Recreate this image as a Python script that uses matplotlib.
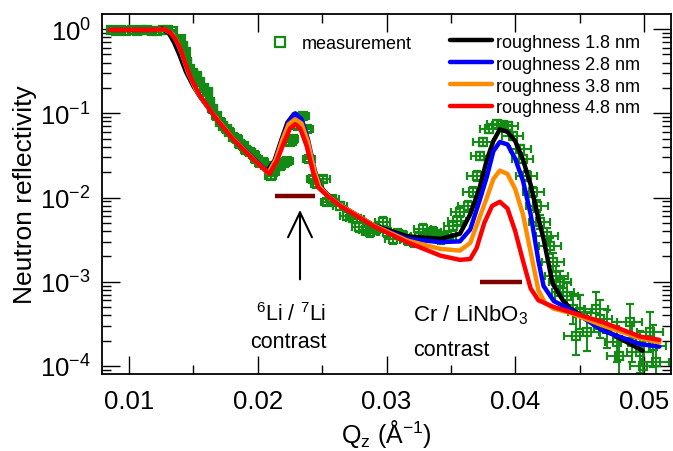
import matplotlib
matplotlib.use("Agg")
import matplotlib.pyplot as plt
import numpy as np
from matplotlib.lines import Line2D
from matplotlib.ticker import MultipleLocator, LogLocator, NullFormatter, FuncFormatter

plt.rcParams["font.family"] = ["Liberation Sans", "DejaVu Sans"]
plt.rcParams["mathtext.fontset"] = "custom"
plt.rcParams["mathtext.rm"] = "Liberation Sans"
plt.rcParams["mathtext.it"] = "Liberation Sans:italic"
plt.rcParams["mathtext.bf"] = "Liberation Sans:bold"

# measured reflectivity: Qz, log10(R), half-width of the error bar in decades
meas_q = [
    0.0086, 0.0090, 0.0094, 0.0098, 0.0102, 0.0106, 0.0110, 0.0114, 0.0118, 0.0122,
    0.0126, 0.0130, 0.0134, 0.0140, 0.0142, 0.0144, 0.0145, 0.0147, 0.0150, 0.0153,
    0.0155, 0.0158, 0.0161, 0.0163, 0.0165, 0.0168, 0.0171, 0.0173, 0.0176, 0.0178,
    0.0181, 0.0184, 0.0186, 0.0189, 0.0191, 0.0194, 0.0197, 0.0199, 0.0202, 0.0204,
    0.0207, 0.0210, 0.0212, 0.0215, 0.0217, 0.0220, 0.0223, 0.0225, 0.0227, 0.0231,
    0.0233, 0.0235, 0.0238, 0.0240, 0.0243, 0.0246, 0.0251, 0.0254, 0.0258, 0.0264,
    0.0269, 0.0274, 0.0277, 0.0279, 0.0284, 0.0287, 0.0292, 0.0297, 0.0300, 0.0305,
    0.0309, 0.0313, 0.0317, 0.0321, 0.0325, 0.0328, 0.0332, 0.0336, 0.0339, 0.0342,
    0.0345, 0.0347, 0.0352, 0.0355, 0.0357, 0.0363, 0.0367, 0.0370, 0.0373, 0.0375,
    0.0380, 0.0386, 0.0390, 0.0394, 0.0398, 0.0404, 0.0406, 0.0409, 0.0414, 0.0417,
    0.0419, 0.0425, 0.0427, 0.0429, 0.0432, 0.0435, 0.0437, 0.0440, 0.0445, 0.0447,
    0.0450, 0.0456, 0.0463, 0.0466, 0.0471, 0.0479, 0.0481, 0.0489, 0.0491, 0.0497,
    0.0499, 0.0505, 0.0507, 0.0509,
]
meas_log = [
    -0.015, -0.020, -0.010, -0.018, -0.012, -0.022, -0.015, -0.010, -0.018, -0.020,
    -0.012, -0.005, -0.020, -0.119, -0.202, -0.273, -0.392, -0.475, -0.520, -0.558,
    -0.629, -0.700, -0.748, -0.866, -0.950, -1.033, -1.100, -1.151, -1.190, -1.223,
    -1.280, -1.306, -1.360, -1.389, -1.430, -1.460, -1.500, -1.543, -1.590, -1.579,
    -1.626, -1.745, -1.697, -1.620, -1.626, -1.590, -1.567, -1.341, -1.306, -1.151,
    -1.045, -1.033, -1.187, -1.543, -1.780, -1.840, -1.780, -2.053, -2.018, -2.101,
    -2.220, -2.240, -2.255, -2.350, -2.380, -2.409, -2.370, -2.291, -2.409, -2.493,
    -2.430, -2.457, -2.500, -2.528, -2.470, -2.374, -2.430, -2.409, -2.440, -2.493,
    -2.470, -2.457, -2.338, -2.280, -2.172, -2.101, -1.935, -1.745, -1.507, -1.341,
    -1.187, -1.128, -1.140, -1.151, -1.270, -1.424, -1.543, -1.745, -1.935, -2.101,
    -2.291, -2.457, -2.576, -2.766, -2.932, -3.003, -3.122, -3.169, -3.323, -3.644,
    -3.359, -3.596, -3.323, -3.442, -3.561, -3.715, -3.881, -3.478, -3.715, -3.834,
    -4.000, -3.596, -3.763, -3.953,
]
meas_err = [
    0.01, 0.01, 0.01, 0.01, 0.01, 0.01, 0.01, 0.01, 0.01, 0.01,
    0.01, 0.01, 0.015, 0.02, 0.02, 0.02, 0.02, 0.02, 0.02, 0.02,
    0.02, 0.02, 0.02, 0.02, 0.02, 0.025, 0.025, 0.025, 0.025, 0.025,
    0.025, 0.025, 0.025, 0.025, 0.025, 0.025, 0.03, 0.03, 0.03, 0.03,
    0.03, 0.03, 0.03, 0.03, 0.03, 0.03, 0.03, 0.03, 0.03, 0.03,
    0.03, 0.03, 0.03, 0.03, 0.04, 0.04, 0.04, 0.04, 0.04, 0.05,
    0.05, 0.05, 0.05, 0.06, 0.06, 0.06, 0.06, 0.06, 0.06, 0.06,
    0.06, 0.06, 0.06, 0.06, 0.06, 0.06, 0.06, 0.06, 0.06, 0.06,
    0.06, 0.06, 0.06, 0.06, 0.06, 0.06, 0.06, 0.06, 0.05, 0.05,
    0.05, 0.05, 0.05, 0.05, 0.05, 0.05, 0.05, 0.06, 0.06, 0.07,
    0.08, 0.09, 0.10, 0.11, 0.12, 0.13, 0.15, 0.16, 0.18, 0.22,
    0.20, 0.22, 0.20, 0.22, 0.22, 0.24, 0.24, 0.22, 0.24, 0.25,
    0.26, 0.24, 0.25, 0.26,
]
q_resolution = 0.02  # dQ/Q

# model curves for four interface roughnesses: Qz and log10(R)
fit_18_q = [0.0085, 0.0120, 0.0126, 0.0131, 0.0135, 0.0139, 0.0144, 0.0150, 0.0155, 0.0168,
            0.0181, 0.0196, 0.0207, 0.0213, 0.0218, 0.0223, 0.0228, 0.0233, 0.0238, 0.0243,
            0.0248, 0.0254, 0.0264, 0.0290, 0.0316, 0.0342, 0.0357, 0.0365, 0.0372, 0.0378,
            0.0383, 0.0388, 0.0394, 0.0400, 0.0406, 0.0412, 0.0418, 0.0422, 0.0429, 0.0437,
            0.0443, 0.0468, 0.0499]
fit_18_log = [-0.010, -0.010, 0.005, -0.050, -0.160, -0.300, -0.500, -0.680, -0.800, -1.065,
              -1.300, -1.530, -1.690, -1.560, -1.330, -1.110, -1.010, -1.060, -1.300, -1.640,
              -1.860, -1.960, -2.090, -2.330, -2.460, -2.490, -2.430, -2.200, -1.900, -1.550,
              -1.330, -1.190, -1.220, -1.330, -1.550, -1.850, -2.250, -2.490, -3.020, -3.220,
              -3.320, -3.560, -3.820]

fit_28_q = [0.0085, 0.0120, 0.0127, 0.0133, 0.0137, 0.0141, 0.0146, 0.0152, 0.0158, 0.0168,
            0.0181, 0.0196, 0.0208, 0.0214, 0.0219, 0.0224, 0.0229, 0.0234, 0.0239, 0.0244,
            0.0248, 0.0254, 0.0264, 0.0290, 0.0316, 0.0342, 0.0357, 0.0365, 0.0372, 0.0378,
            0.0383, 0.0388, 0.0394, 0.0400, 0.0406, 0.0412, 0.0418, 0.0422, 0.0430, 0.0443,
            0.0468, 0.0497, 0.0512]
fit_28_log = [-0.010, -0.010, 0.000, -0.050, -0.150, -0.300, -0.520, -0.720, -0.860, -1.060,
              -1.300, -1.530, -1.700, -1.540, -1.300, -1.100, -1.000, -1.070, -1.310, -1.660,
              -1.860, -1.970, -2.090, -2.330, -2.490, -2.530, -2.520, -2.380, -2.050, -1.750,
              -1.450, -1.340, -1.370, -1.540, -1.800, -2.200, -2.750, -3.050, -3.230, -3.330,
              -3.580, -3.740, -3.770]

fit_38_q = [0.0085, 0.0120, 0.0127, 0.0133, 0.0137, 0.0141, 0.0146, 0.0152, 0.0158, 0.0168,
            0.0181, 0.0196, 0.0208, 0.0214, 0.0219, 0.0224, 0.0229, 0.0234, 0.0239, 0.0244,
            0.0248, 0.0254, 0.0264, 0.0290, 0.0316, 0.0342, 0.0357, 0.0365, 0.0372, 0.0378,
            0.0383, 0.0388, 0.0394, 0.0400, 0.0406, 0.0412, 0.0418, 0.0423, 0.0430, 0.0443,
            0.0468, 0.0497, 0.0512]
fit_38_log = [-0.010, -0.010, 0.000, -0.050, -0.140, -0.290, -0.520, -0.720, -0.860, -1.060,
              -1.300, -1.535, -1.710, -1.550, -1.320, -1.130, -1.070, -1.120, -1.340, -1.680,
              -1.870, -1.970, -2.090, -2.330, -2.510, -2.610, -2.630, -2.540, -2.250, -2.000,
              -1.780, -1.680, -1.720, -1.900, -2.200, -2.650, -3.100, -3.250, -3.320, -3.370,
              -3.520, -3.670, -3.720]

fit_48_q = [0.0085, 0.0120, 0.0127, 0.0132, 0.0136, 0.0140, 0.0144, 0.0148, 0.0155, 0.0168,
            0.0181, 0.0196, 0.0209, 0.0215, 0.0220, 0.0225, 0.0229, 0.0233, 0.0238, 0.0243,
            0.0247, 0.0254, 0.0264, 0.0290, 0.0316, 0.0342, 0.0357, 0.0365, 0.0370, 0.0376,
            0.0382, 0.0388, 0.0394, 0.0400, 0.0406, 0.0412, 0.0418, 0.0430, 0.0443, 0.0468,
            0.0497, 0.0512]
fit_48_log = [-0.010, -0.010, 0.000, -0.040, -0.120, -0.240, -0.420, -0.580, -0.790, -1.070,
              -1.310, -1.540, -1.720, -1.560, -1.360, -1.180, -1.130, -1.180, -1.390, -1.700,
              -1.880, -1.980, -2.100, -2.340, -2.530, -2.690, -2.740, -2.730, -2.600, -2.300,
              -2.100, -2.050, -2.130, -2.400, -2.750, -3.080, -3.220, -3.300, -3.360, -3.480,
              -3.650, -3.690]

fit_labels = ["roughness 1.8 nm", "roughness 2.8 nm", "roughness 3.8 nm", "roughness 4.8 nm"]
fit_colors = ["#000000", "#0000ff", "#ff8c00", "#ff0000"]

# Qz ranges of the two contrast features (start, end, R level)
contrast_bars = [(0.02137, 0.02448, 0.0104), (0.03727, 0.04053, 0.00099)]

green = "#138a13"

fig = plt.figure(figsize=(6.73, 4.52), dpi=100)
ax = fig.add_axes([0.1516, 0.1704, 0.8454, 0.7964])

q = np.array(meas_q)
r = 10 ** np.array(meas_log)
e = np.array(meas_err)
yerr = [r - r * 10 ** (-e), r * 10 ** e - r]
ax.errorbar(q, r, yerr=yerr, xerr=q * q_resolution, fmt="s", ms=6.2, mfc="none",
            mec=green, mew=1.6, ecolor=green, elinewidth=1.4, capsize=2.8,
            capthick=1.4, zorder=2)

fits = [(fit_18_q, fit_18_log), (fit_28_q, fit_28_log),
        (fit_38_q, fit_38_log), (fit_48_q, fit_48_log)]
handles = []
for (fq, fl), lab, col in zip(fits, fit_labels, fit_colors):
    (ln,) = ax.plot(fq, 10 ** np.array(fl), color=col, lw=3.2, label=lab,
                    solid_joinstyle="round", solid_capstyle="round", zorder=3)
    handles.append(ln)

for q0, q1, lev in contrast_bars:
    ax.plot([q0, q1], [lev, lev], color="#800000", lw=3.2, solid_capstyle="butt", zorder=4)

ax.annotate("", xy=(0.02328, 0.0077), xytext=(0.02328, 0.00099),
            arrowprops=dict(arrowstyle="->,head_length=1.8,head_width=0.86",
                            mutation_scale=10, lw=1.5, color="black"))

ax.text(0.02262, 3.5e-4, r"$^{6}$Li / $^{7}$Li", fontsize=15.5, ha="center", va="baseline")
ax.text(0.02238, 1.7e-4, "contrast", fontsize=15.5, ha="center", va="baseline")
ax.text(0.03206, 3.5e-4, r"Cr / LiNbO$_{3}$", fontsize=16, ha="left", va="baseline")
ax.text(0.03206, 1.35e-4, "contrast", fontsize=15.5, ha="left", va="baseline")

ax.set_yscale("log")
ax.set_xlim(0.0079, 0.0521)
ax.set_ylim(8.04e-5, 1.51)

ax.xaxis.set_major_locator(MultipleLocator(0.01))
ax.xaxis.set_minor_locator(MultipleLocator(0.005))
ax.xaxis.set_major_formatter(FuncFormatter(lambda v, p: f"{v:.2f}"))
ax.yaxis.set_major_locator(LogLocator(base=10, numticks=10))
ax.yaxis.set_minor_locator(LogLocator(base=10, subs=np.arange(2, 10), numticks=20))
ax.yaxis.set_minor_formatter(NullFormatter())

ax.tick_params(which="both", direction="in", top=True, right=True, width=1.0,
               labelsize=18.5)
ax.tick_params(axis="y", pad=8)
ax.tick_params(axis="x", pad=11)
ax.tick_params(which="major", length=13)
ax.tick_params(which="minor", length=6.5)
for sp in ax.spines.values():
    sp.set_linewidth(1.3)

ax.set_ylabel("Neutron reflectivity", fontsize=19)
ax.yaxis.set_label_coords(-0.115, 0.5)
ax.set_xlabel(r"Q$_\mathrm{z}$ (Å$^{-1}$)", fontsize=18, va="bottom")
ax.xaxis.set_label_coords(0.5, -0.208)

leg1 = ax.legend(handles=handles, loc="upper left", bbox_to_anchor=(0.6116, 0.945),
                 frameon=False, fontsize=13, handlelength=2.3, handletextpad=0.23,
                 labelspacing=0.27, borderpad=0, borderaxespad=0)
ax.add_artist(leg1)
meas_proxy = Line2D([], [], ls="none", marker="s", ms=7.5, mfc="none", mec=green, mew=1.6)
ax.legend(handles=[meas_proxy], labels=["measurement"], loc="upper left",
          bbox_to_anchor=(0.297, 0.942), frameon=False, fontsize=13,
          handlelength=1.0, handletextpad=0.7, borderpad=0, borderaxespad=0)

fig.savefig("out.png", dpi=100)
